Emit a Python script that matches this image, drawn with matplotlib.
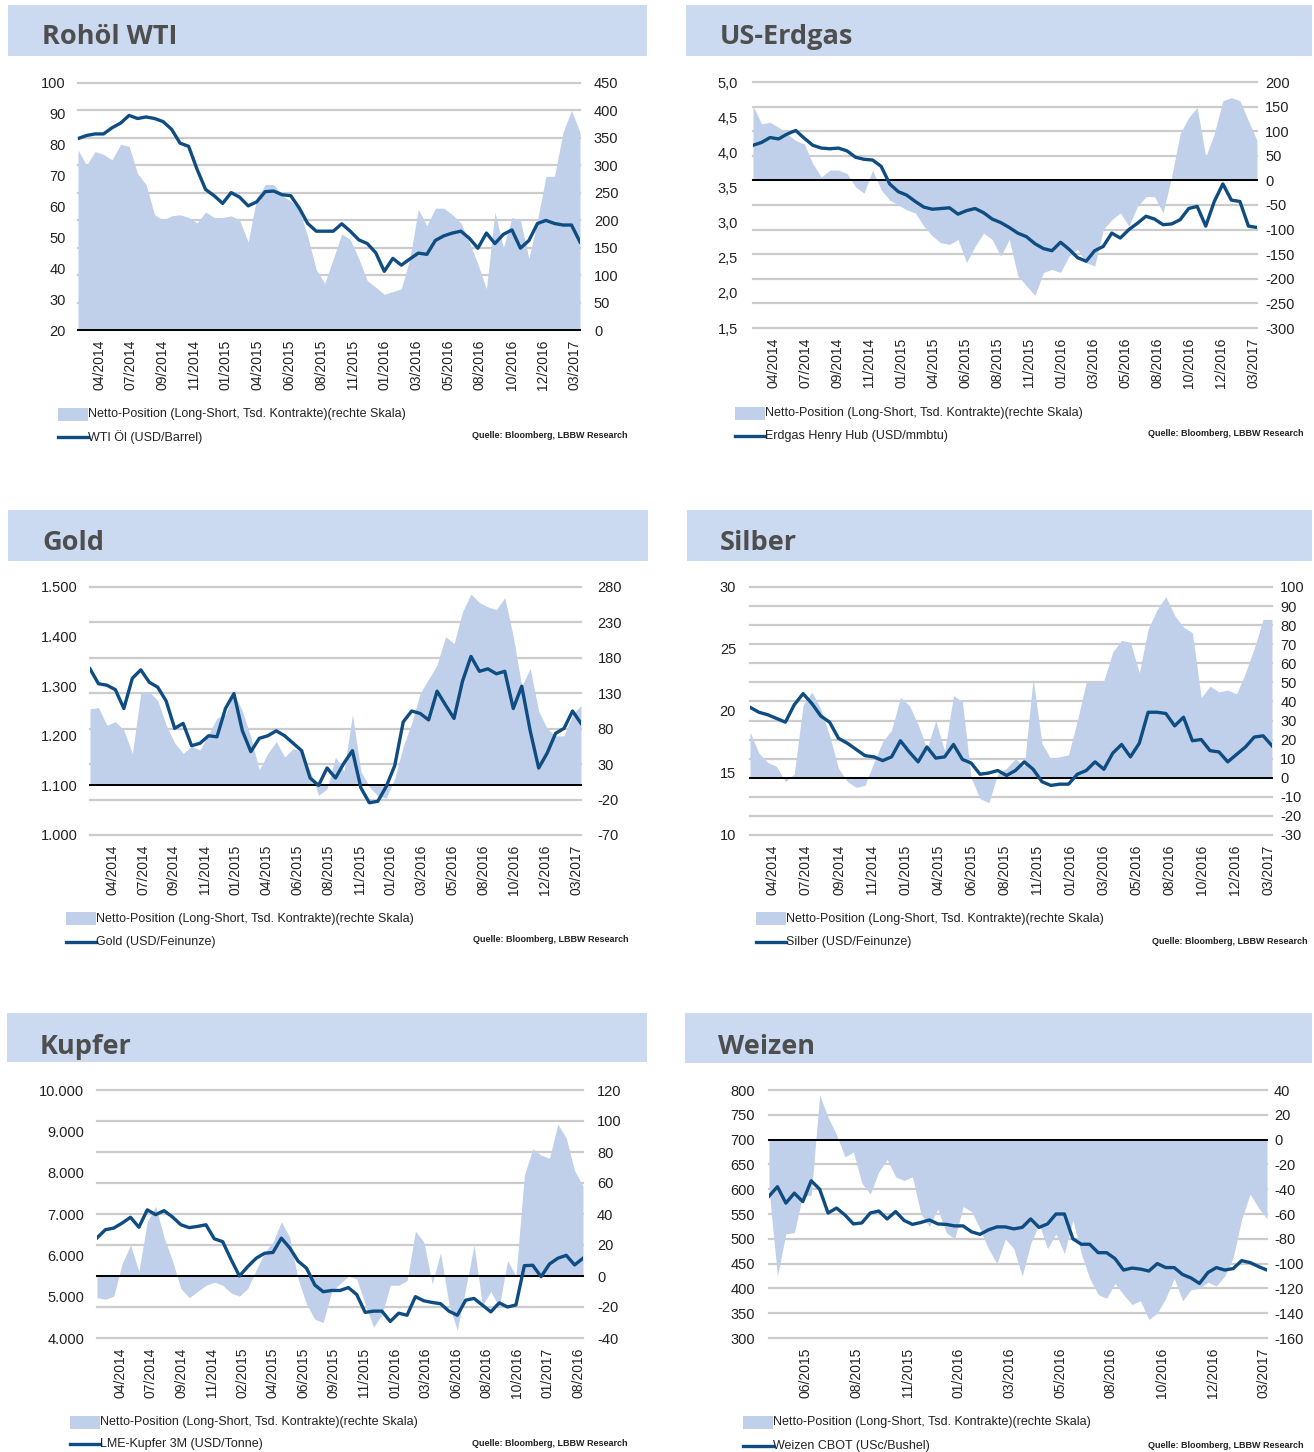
import numpy as np
import matplotlib
matplotlib.use("Agg")
import matplotlib.pyplot as plt
from matplotlib.patches import Rectangle
from matplotlib.lines import Line2D

plt.rcParams['font.family'] = ['Liberation Sans Narrow', 'Liberation Sans', 'DejaVu Sans']

# ---------------- data ----------------
months_std = ['04/2014', '07/2014', '09/2014', '11/2014', '01/2015', '04/2015', '06/2015', '08/2015',
              '11/2015', '01/2016', '03/2016', '05/2016', '08/2016', '10/2016', '12/2016', '03/2017']
months_copper = ['04/2014', '07/2014', '09/2014', '11/2014', '02/2015', '04/2015', '06/2015', '09/2015',
                 '11/2015', '01/2016', '03/2016', '06/2016', '08/2016', '10/2016', '01/2017', '08/2016']
months_wheat = ['06/2015', '08/2015', '11/2015', '01/2016', '03/2016', '05/2016', '08/2016', '10/2016',
                '12/2016', '03/2017']

wti_price = [82, 83, 83.5, 83.5, 85.5, 87, 89.5, 88.5, 89, 88.5, 87.5, 85, 80.5, 79.5, 72,
             65.5, 63.5, 61, 64.5, 63, 60.2, 61.5, 64.8, 65, 63.8, 63.5, 59.5, 54.5, 52, 52,
             52, 54.4, 52, 49.2, 48, 45, 39, 43.2, 41, 43, 44.9, 44.5, 49, 50.5, 51.4,
             52, 49.7, 46.5, 51.4, 48, 51, 52.4, 46.5, 49, 54.5, 55.5, 54.5, 54, 54, 48.5]
wti_net = [328, 300, 325, 320, 310, 338, 335, 285, 265, 210, 200, 208, 210, 205, 195,
           215, 205, 205, 208, 200, 160, 240, 265, 265, 245, 235, 220, 170, 110, 85,
           130, 175, 165, 130, 90, 78, 65, 70, 75, 130, 220, 190, 222, 222, 210,
           195, 160, 120, 75, 215, 150, 205, 200, 130, 200, 280, 280, 360, 400, 360]

gas_price = [4.10, 4.14, 4.21, 4.19, 4.26, 4.31, 4.20, 4.10, 4.06, 4.05, 4.06, 4.02, 3.93, 3.90, 3.89,
             3.80, 3.55, 3.44, 3.39, 3.30, 3.22, 3.19, 3.20, 3.21, 3.12, 3.17, 3.20, 3.14, 3.05, 3.00,
             2.93, 2.85, 2.80, 2.70, 2.63, 2.60, 2.72, 2.62, 2.50, 2.45, 2.60, 2.66, 2.85, 2.78, 2.90,
             2.99, 3.09, 3.05, 2.97, 2.98, 3.04, 3.20, 3.23, 2.95, 3.30, 3.55, 3.32, 3.30, 2.95, 2.93]
gas_net = [152, 115, 118, 108, 95, 81, 74, 34, 7, 21, 21, 14, -13, -26, 21,
           -19, -40, -50, -60, -66, -93, -113, -127, -130, -120, -167, -134, -107, -120, -154,
           -120, -194, -214, -234, -187, -181, -187, -154, -140, -167, -174, -100, -80, -66, -93,
           -53, -33, -33, -66, 7, 95, 128, 148, 48, 95, 162, 168, 162, 121, 81]

gold_price = [1335, 1305, 1302, 1293, 1255, 1316, 1333, 1308, 1298, 1270, 1215, 1225, 1180, 1185, 1200,
              1198, 1255, 1285, 1210, 1168, 1195, 1200, 1210, 1200, 1185, 1170, 1115, 1100, 1135, 1115,
              1145, 1170, 1095, 1065, 1068, 1098, 1140, 1228, 1250, 1245, 1232, 1290, 1262, 1235, 1310,
              1360, 1330, 1335, 1325, 1330, 1255, 1300, 1210, 1135, 1165, 1205, 1215, 1250, 1225]
gold_net = [108, 110, 85, 90, 78, 45, 130, 132, 120, 85, 60, 45, 55, 50, 72,
            95, 100, 130, 105, 68, 22, 45, 62, 40, 52, 48, 20, -14, -5, 40,
            20, 100, 20, -2, -15, -18, 10, 55, 88, 130, 150, 170, 210, 200, 245,
            270, 258, 252, 248, 265, 210, 140, 165, 105, 80, 70, 70, 100, 113]

silver_price = [20.3, 19.9, 19.7, 19.4, 19.1, 20.5, 21.4, 20.6, 19.6, 19.1, 17.8, 17.4, 16.9, 16.4, 16.3,
                16.0, 16.3, 17.6, 16.7, 15.9, 17.1, 16.2, 16.3, 17.3, 16.1, 15.8, 14.9, 15.0, 15.2, 14.8,
                15.2, 15.9, 15.3, 14.3, 14.0, 14.1, 14.1, 14.9, 15.2, 15.9, 15.3, 16.6, 17.3, 16.3, 17.4,
                19.9, 19.9, 19.8, 18.8, 19.5, 17.6, 17.7, 16.8, 16.7, 15.9, 16.5, 17.1, 17.9, 18.0, 17.2]
silver_net = [24, 13, 8, 6, -2, 2, 38, 45, 36, 22, 5, -2, -5, -4, 8,
              19, 25, 42, 38, 28, 15, 30, 14, 43, 40, 0, -11, -13, 2, 5,
              10, 6, 52, 18, 10, 11, 12, 30, 50, 50, 51, 66, 72, 71, 55,
              78, 88, 95, 85, 79, 76, 42, 48, 45, 46, 44, 55, 68, 83, 83]

copper_price = [6420, 6620, 6660, 6780, 6920, 6680, 7100, 6984, 7080, 6930, 6741, 6670, 6700, 6740, 6400,
                6330, 5900, 5500, 5730, 5930, 6050, 6070, 6416, 6180, 5860, 5690, 5281, 5119, 5150, 5150,
                5220, 5050, 4620, 4650, 4650, 4400, 4600, 4551, 5000, 4900, 4860, 4830, 4650, 4550, 4916,
                4957, 4795, 4632, 4850, 4750, 4800, 5750, 5760, 5484, 5790, 5930, 6000, 5768, 5930]
copper_net = [-14, -15, -13, 8, 20, 3, 35, 45, 25, 10, -8, -14, -10, -6, -4,
              -6, -11, -13, -8, 4, 15, 22, 35, 25, -2, -18, -28, -30, -10, -5,
              0, -2, -18, -33, -25, -6, -6, -3, 29, 22, -5, 15, -18, -35, -8,
              20, -19, -10, -20, 10, 0, 65, 82, 78, 76, 98, 89, 68, 58]

wheat_price = [586, 605, 572, 592, 575, 617, 600, 552, 562, 548, 530, 532, 552, 556, 540,
               555, 537, 529, 533, 538, 530, 529, 526, 526, 514, 509, 518, 524, 524, 520,
               523, 540, 523, 530, 550, 550, 500, 489, 489, 472, 472, 460, 437, 441, 439,
               435, 450, 442, 442, 428, 421, 410, 432, 442, 437, 440, 456, 452, 444, 437]
wheat_net = [-40, -110, -76, -75, -45, -45, 36, 18, 4, -14, -10, -35, -44, -26, -16,
             -30, -33, -30, -60, -70, -56, -75, -80, -54, -58, -72, -88, -100, -80, -88,
             -110, -84, -68, -88, -76, -92, -65, -92, -112, -125, -128, -116, -125, -133, -130,
             -145, -140, -128, -112, -130, -121, -120, -115, -118, -110, -95, -64, -44, -55, -64]

NET_LABEL = 'Netto-Position (Long-Short, Tsd. Kontrakte)(rechte Skala)'
SOURCE = 'Quelle: Bloomberg, LBBW Research'

# ---------------- style ----------------
W, H = 1314, 1452
HEADER = '#cbdaf0'
AREA = '#c0d0ea'
LINE = '#0f4c82'
GRID = '#cccccc'
TXT = '#222222'
TITLE_FONT = ['Open Sans', 'DejaVu Sans']

fig = plt.figure(figsize=(W / 100, H / 100), dpi=100)


def de_num(v, dec=0):
    s = f"{v:,.{dec}f}"
    return s.replace(',', 'X').replace('.', ',').replace('X', '.')


panels = [
    dict(title='Rohöl WTI', header=(8, 5, 647, 56), tpos=(42, 36), box=(78, 83, 580, 330),
         price=wti_price, net=wti_net, lticks=np.arange(20, 101, 10), ldec=0,
         rticks=np.arange(0, 451, 50), xl=months_std, xf=(0.042, 0.99),
         label='WTI Öl (USD/Barrel)', leg=(58, 414, 437), src=(472, 435), lpad=9, rpad=10),
    dict(title='US-Erdgas', header=(686, 5, 1312, 56), tpos=(720, 36), box=(753, 82, 1257, 328),
         price=gas_price, net=gas_net, lticks=np.arange(1.5, 5.01, 0.5), ldec=1,
         rticks=np.arange(-300, 201, 50), xl=months_std, xf=(0.04, 0.993),
         label='Erdgas Henry Hub (USD/mmbtu)', leg=(735, 413, 436), src=(1148, 433), lpad=11, rpad=6),
    dict(title='Gold', header=(8, 510, 648, 561), tpos=(42, 542), box=(90, 587, 581, 835),
         price=gold_price, net=gold_net, lticks=np.arange(1000, 1501, 100), ldec=0,
         rticks=np.arange(-70, 281, 50), xl=months_std, xf=(0.045, 0.99),
         label='Gold (USD/Feinunze)', leg=(66, 919, 942), src=(473, 940), lpad=9, rpad=12),
    dict(title='Silber', header=(687, 510, 1312, 561), tpos=(720, 542), box=(750, 587, 1272, 835),
         price=silver_price, net=silver_net, lticks=np.arange(10, 31, 5), ldec=0,
         rticks=np.arange(-30, 101, 10), xl=months_std, xf=(0.044, 0.993),
         label='Silber (USD/Feinunze)', leg=(756, 919, 942), src=(1152, 942), lpad=10, rpad=6),
    dict(title='Kupfer', header=(7, 1013, 647, 1062), tpos=(40, 1046), box=(97, 1090, 583, 1338),
         price=copper_price, net=copper_net, lticks=np.arange(4000, 10001, 1000), ldec=0,
         rticks=np.arange(-40, 121, 20), xl=months_copper, xf=(0.048, 0.99),
         label='LME-Kupfer 3M (USD/Tonne)', leg=(70, 1422, 1444), src=(472, 1444), lpad=9, rpad=10),
    dict(title='Weizen', header=(685, 1013, 1312, 1063), tpos=(718, 1046), box=(769, 1090, 1267, 1338),
         price=wheat_price, net=wheat_net, lticks=np.arange(300, 801, 50), ldec=0,
         rticks=np.arange(-160, 41, 20), xl=months_wheat, xf=(0.074, 0.993),
         label='Weizen CBOT (USc/Bushel)', leg=(743, 1422, 1446), src=(1148, 1446), lpad=10, rpad=5),
]

for p in panels:
    hx0, hy0, hx1, hy1 = p['header']
    fig.add_artist(Rectangle((hx0 / W, 1 - hy1 / H), (hx1 - hx0) / W, (hy1 - hy0) / H,
                             transform=fig.transFigure, color=HEADER, lw=0, zorder=0))
    fig.text(p['tpos'][0] / W, 1 - (p['tpos'][1] + 1) / H, p['title'], fontsize=19.5, fontweight='bold',
             color='#4e4e4e', va='center', ha='left', family=TITLE_FONT)

    x0, y0, x1, y1 = p['box']
    rect = [x0 / W, 1 - y1 / H, (x1 - x0) / W, (y1 - y0) / H]

    # area axis (right scale)
    axA = fig.add_axes(rect)
    net = np.array(p['net'], dtype=float)
    xa = np.linspace(0, 1, len(net))
    rt = p['rticks']
    for t in rt:
        axA.axhline(t, color=GRID, lw=1.6, zorder=1, clip_on=False)
    axA.fill_between(xa, 0, net, color=AREA, lw=0, zorder=2)
    axA.axhline(0, color='black', lw=1.4, zorder=3, clip_on=False)
    axA.set_xlim(0, 1)
    axA.set_ylim(rt[0], rt[-1])
    axA.yaxis.tick_right()
    axA.set_yticks(rt)
    axA.set_yticklabels([de_num(t) for t in rt])
    xt = np.linspace(p['xf'][0], p['xf'][1], len(p['xl']))
    axA.set_xticks(xt)
    axA.set_xticklabels(p['xl'], rotation=90, va='top', ha='center')
    axA.tick_params(axis='x', length=0, pad=7, labelsize=10, colors=TXT)
    axA.tick_params(axis='y', length=0, pad=p['rpad'], labelsize=10.5, colors=TXT)
    for s in axA.spines.values():
        s.set_visible(False)
    axA.patch.set_visible(False)

    # line axis (left scale)
    axL = fig.add_axes(rect)
    price = np.array(p['price'], dtype=float)
    xl = np.linspace(0, 1, len(price))
    axL.plot(xl, price, color=LINE, lw=2.4, solid_joinstyle='round', zorder=4)
    lt = p['lticks']
    axL.set_xlim(0, 1)
    axL.set_ylim(lt[0], lt[-1])
    axL.set_yticks(lt)
    axL.set_yticklabels([de_num(t, p['ldec']) for t in lt])
    axL.set_xticks([])
    axL.tick_params(axis='y', length=0, pad=p['lpad'], labelsize=10.5, colors=TXT)
    for s in axL.spines.values():
        s.set_visible(False)
    axL.patch.set_visible(False)

    # legend
    lx, yp, yl = p['leg']
    fig.add_artist(Rectangle((lx / W, 1 - (yp + 6.5) / H), 30 / W, 13 / H,
                             transform=fig.transFigure, color=AREA, lw=0))
    fig.text((lx + 30) / W, 1 - yp / H, NET_LABEL, fontsize=9, va='center', ha='left', color=TXT)
    fig.add_artist(Line2D([lx / W, (lx + 30) / W], [1 - yl / H, 1 - yl / H],
                          transform=fig.transFigure, color=LINE, lw=2.4))
    fig.text((lx + 30) / W, 1 - yl / H, p['label'], fontsize=9, va='center', ha='left', color=TXT)
    fig.text(p['src'][0] / W, 1 - p['src'][1] / H, SOURCE, fontsize=6.5, fontweight='bold',
             va='center', ha='left', color=TXT)

fig.savefig('out.png', dpi=100, facecolor='white')
